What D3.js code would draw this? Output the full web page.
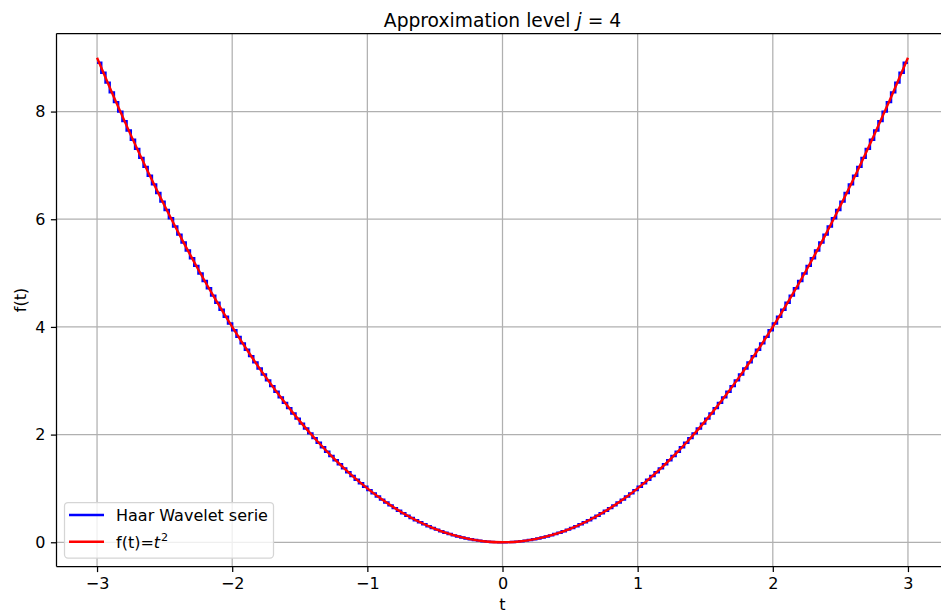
<!DOCTYPE html>
<html>
<head>
<meta charset="utf-8">
<script src="https://cdn.jsdelivr.net/npm/d3@7"></script>
<style>
  html, body { margin: 0; padding: 0; background: #fff; }
  svg { display: block; font-family: "DejaVu Sans", sans-serif; }
</style>
</head>
<body>
<svg id="chart" width="941" height="614"></svg>
<script>
// ---------------- data ----------------
const titleText = "Approximation level ";
const xTicks = [-3, -2, -1, 0, 1, 2, 3];
const yTicks = [0, 2, 4, 6, 8];
const tStart = -3;
const stepWidth = 0.03125; // width of each Haar step
// Haar approximation: value on each step from t = -3 to t = 3
const haarValues = [
  8.907, 8.721, 8.537, 8.356, 8.176, 7.998, 7.823, 7.649, 7.477, 7.307, 7.139, 6.973,
  6.809, 6.647, 6.487, 6.328, 6.172, 6.018, 5.866, 5.715, 5.567, 5.420, 5.276, 5.133,
  4.992, 4.854, 4.717, 4.582, 4.450, 4.319, 4.190, 4.063, 3.938, 3.815, 3.694, 3.575,
  3.457, 3.342, 3.229, 3.117, 3.008, 2.901, 2.795, 2.692, 2.590, 2.491, 2.393, 2.297,
  2.203, 2.112, 2.022, 1.934, 1.848, 1.764, 1.682, 1.602, 1.524, 1.448, 1.373, 1.301,
  1.231, 1.162, 1.096, 1.032, 0.969, 0.908, 0.850, 0.793, 0.739, 0.686, 0.635, 0.586,
  0.539, 0.494, 0.451, 0.410, 0.371, 0.334, 0.299, 0.266, 0.235, 0.205, 0.178, 0.153,
  0.129, 0.108, 0.088, 0.071, 0.055, 0.041, 0.030, 0.020, 0.012, 0.006, 0.002, 0.000,
  0.000, 0.002, 0.006, 0.012, 0.020, 0.030, 0.041, 0.055, 0.071, 0.088, 0.108, 0.129,
  0.153, 0.178, 0.205, 0.235, 0.266, 0.299, 0.334, 0.371, 0.410, 0.451, 0.494, 0.539,
  0.586, 0.635, 0.686, 0.739, 0.793, 0.850, 0.908, 0.969, 1.032, 1.096, 1.162, 1.231,
  1.301, 1.373, 1.448, 1.524, 1.602, 1.682, 1.764, 1.848, 1.934, 2.022, 2.112, 2.203,
  2.297, 2.393, 2.491, 2.590, 2.692, 2.795, 2.901, 3.008, 3.117, 3.229, 3.342, 3.457,
  3.575, 3.694, 3.815, 3.938, 4.063, 4.190, 4.319, 4.450, 4.582, 4.717, 4.854, 4.992,
  5.133, 5.276, 5.420, 5.567, 5.715, 5.866, 6.018, 6.172, 6.328, 6.487, 6.647, 6.809,
  6.973, 7.139, 7.307, 7.477, 7.649, 7.823, 7.998, 8.176, 8.356, 8.537, 8.721, 8.907
];
// f(t) = t^2 sampled every 0.125 from -3 to 3
const fT = [
  -3, -2.875, -2.75, -2.625, -2.5, -2.375, -2.25, -2.125, -2, -1.875, -1.75, -1.625,
  -1.5, -1.375, -1.25, -1.125, -1, -0.875, -0.75, -0.625, -0.5, -0.375, -0.25, -0.125, 0,
  0.125, 0.25, 0.375, 0.5, 0.625, 0.75, 0.875, 1, 1.125, 1.25, 1.375, 1.5, 1.625, 1.75,
  1.875, 2, 2.125, 2.25, 2.375, 2.5, 2.625, 2.75, 2.875, 3
];
const fValues = [
  9, 8.2656, 7.5625, 6.8906, 6.25, 5.6406, 5.0625, 4.5156, 4, 3.5156, 3.0625, 2.6406,
  2.25, 1.8906, 1.5625, 1.2656, 1, 0.7656, 0.5625, 0.3906, 0.25, 0.1406, 0.0625, 0.0156, 0,
  0.0156, 0.0625, 0.1406, 0.25, 0.3906, 0.5625, 0.7656, 1, 1.2656, 1.5625, 1.8906, 2.25,
  2.6406, 3.0625, 3.5156, 4, 4.5156, 5.0625, 5.6406, 6.25, 6.8906, 7.5625, 8.2656, 9
];
const legendLabels = ["Haar Wavelet serie", "f(t)="];
const colors = ["#0000ff", "#ff0000"];

// ---------------- layout ----------------
const svg = d3.select("#chart");
const pLeft = 56.5, pRight = 948.5, pTop = 33.5, pBottom = 566.5;
const fs = 16;
const x = d3.scaleLinear().domain([-3.3, 3.3]).range([pLeft, pRight]);
const y = d3.scaleLinear().domain([-0.45, 9.45]).range([pBottom, pTop]);

// grid
const g = svg.append("g");
g.selectAll("line.vg").data(xTicks).enter().append("line")
  .attr("x1", d => x(d)).attr("x2", d => x(d)).attr("y1", pTop).attr("y2", pBottom)
  .attr("stroke", "#b0b0b0").attr("stroke-width", 1.25);
g.selectAll("line.hg").data(yTicks).enter().append("line")
  .attr("y1", d => y(d)).attr("y2", d => y(d)).attr("x1", pLeft).attr("x2", pRight)
  .attr("stroke", "#b0b0b0").attr("stroke-width", 1.25);

// haar steps
const haarPts = [];
haarValues.forEach((v, i) => {
  haarPts.push([tStart + i * stepWidth, v]);
});
haarPts.push([tStart + haarValues.length * stepWidth, haarValues[haarValues.length - 1]]);
svg.append("clipPath").attr("id", "clip").append("rect")
  .attr("x", pLeft).attr("y", pTop).attr("width", pRight - pLeft).attr("height", pBottom - pTop);
const plot = svg.append("g").attr("clip-path", "url(#clip)");
plot.append("path").datum(haarPts)
  .attr("d", d3.line().x(d => x(d[0])).y(d => y(d[1])).curve(d3.curveStepAfter))
  .attr("fill", "none").attr("stroke", colors[0]).attr("stroke-width", 2.4);
plot.append("path").datum(fT.map((t, i) => [t, fValues[i]]))
  .attr("d", d3.line().x(d => x(d[0])).y(d => y(d[1])).curve(d3.curveMonotoneX))
  .attr("fill", "none").attr("stroke", colors[1]).attr("stroke-width", 2.4);

// axes
const xAxis = svg.append("g").attr("transform", `translate(0,${pBottom})`)
  .call(d3.axisBottom(x).tickValues(xTicks).tickSize(5.6).tickPadding(5.6)
    .tickFormat(d => d < 0 ? "\u2212" + Math.abs(d) : d));
const yAxis = svg.append("g").attr("transform", `translate(${pLeft},0)`)
  .call(d3.axisLeft(y).tickValues(yTicks).tickSize(5.6).tickPadding(5.6));
[xAxis, yAxis].forEach(a => {
  a.select(".domain").attr("stroke", "#000").attr("stroke-width", 1.25);
  a.selectAll(".tick line").attr("stroke", "#000").attr("stroke-width", 1.25);
  a.selectAll("text").attr("font-size", fs).attr("fill", "#000")
    .attr("font-family", "DejaVu Sans, sans-serif");
});
xAxis.select(".domain").attr("d", `M${pLeft},0H${pRight}`);
yAxis.select(".domain").attr("d", `M0,${pTop}V${pBottom}`);
svg.append("line").attr("x1", pLeft).attr("x2", pRight).attr("y1", pTop).attr("y2", pTop)
  .attr("stroke", "#000").attr("stroke-width", 1.25);
svg.append("line").attr("x1", pRight).attr("x2", pRight).attr("y1", pTop).attr("y2", pBottom)
  .attr("stroke", "#000").attr("stroke-width", 1.25);

// axis labels
svg.append("text").attr("x", x(0)).attr("y", 610).attr("text-anchor", "middle")
  .attr("font-size", fs).text("t");
svg.append("text").attr("transform", `translate(26,${(pTop + pBottom) / 2}) rotate(-90)`)
  .attr("text-anchor", "middle").attr("font-size", fs).text("f(t)");

// title
const title = svg.append("text").attr("x", (pLeft + pRight) / 2).attr("y", 27)
  .attr("text-anchor", "middle").attr("font-size", 18.7);
title.append("tspan").text(titleText);
title.append("tspan").attr("font-style", "italic").text("j");
title.append("tspan").text(" = 4");

// legend
const lg = svg.append("g");
lg.append("rect").attr("x", 64.5).attr("y", 502.5).attr("width", 209).attr("height", 55.5)
  .attr("rx", 3.5).attr("fill", "#fff").attr("fill-opacity", 0.8)
  .attr("stroke", "#d5d5d5").attr("stroke-width", 1.25);
[0, 1].forEach(i => {
  const yy = 515 + i * 26.8;
  lg.append("line").attr("x1", 69).attr("x2", 104).attr("y1", yy).attr("y2", yy)
    .attr("stroke", colors[i]).attr("stroke-width", 2.4);
  const tx = lg.append("text").attr("x", 116).attr("y", yy + 6).attr("font-size", fs);
  tx.append("tspan").text(legendLabels[i]);
  if (i === 1) {
    tx.append("tspan").attr("font-style", "italic").text("t");
    tx.append("tspan").attr("font-size", 11.2).attr("dy", -7).attr("dx", 1).text("2");
  }
});
</script>
</body>
</html>
